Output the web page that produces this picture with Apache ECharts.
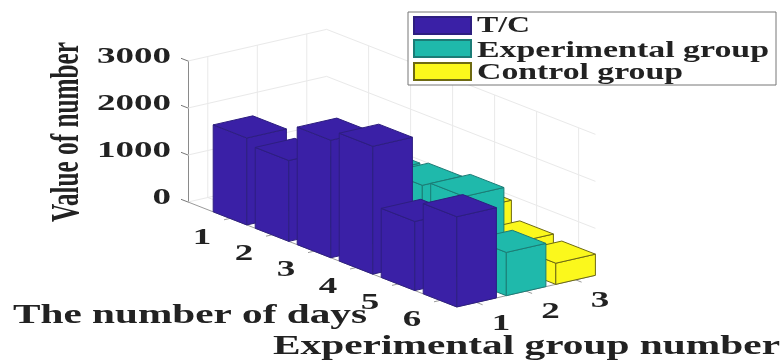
<!DOCTYPE html>
<html>
<head>
<meta charset="utf-8">
<style>html,body{margin:0;padding:0;background:#fff}#c{width:783px;height:360px}</style>
<script src="https://cdn.jsdelivr.net/npm/echarts@6/dist/echarts.min.js"></script>
</head>
<body>
<div id="c"></div>
<script>
const days = [1, 2, 3, 4, 5, 6];
const groups = [1, 2, 3];
const valueTicks = [0, 1000, 2000, 3000];
const seriesNames = ['T/C', 'Experimental group', 'Control group'];
const tcValues = [1850, 1720, 2500, 2720, 1470, 1920];
const experimentalValues = [950, 1050, 1580, 1650, 1760, 920];
const controlValues = [600, 700, 820, 900, 530, 450];

const faceColors = ['#3a20a6', '#1fb9ab', '#fbf81c'];
const edgeColors = ['#2d1e80', '#1b7c76', '#6e6a12'];
const SERIF = '"Liberation Serif", serif';
const INK = '#222';

// oblique view: how one unit of each ground axis shifts on screen
const G_MIN = 0.6, G_MAX = 3.4, D_MAX = 6.4, HALF = 0.4;
const DAY_DY = 16.4, GROUP_DX = 49.5, GROUP_DY = -11.3;

function project(api, d, g, v) {
  const p = api.coord([d, v]);
  return [p[0] + (g - G_MIN) * GROUP_DX, p[1] + d * DAY_DY + (g - G_MIN) * GROUP_DY];
}

function makeBarRenderer(groupIndex) {
  return function (params, api) {
    const day = api.value(0), val = api.value(1), g = groups[groupIndex];
    const d0 = day - HALF, d1 = day + HALF, g0 = g - HALF, g1 = g + HALF;
    const style = { fill: faceColors[groupIndex], stroke: edgeColors[groupIndex], lineWidth: 1 };
    const poly = pts => ({ type: 'polygon', shape: { points: pts }, style });
    return { type: 'group', children: [
      poly([project(api,d0,g0,0), project(api,d1,g0,0), project(api,d1,g0,val), project(api,d0,g0,val)]),
      poly([project(api,d1,g0,0), project(api,d1,g1,0), project(api,d1,g1,val), project(api,d1,g0,val)]),
      poly([project(api,d0,g0,val), project(api,d1,g0,val), project(api,d1,g1,val), project(api,d0,g1,val)])
    ]};
  };
}

const ctx = document.createElement('canvas').getContext('2d');
function label(text, x, y, size, targetWidth, align, extra) {
  ctx.font = 'bold ' + size + 'px "Liberation Serif"';
  const sx = targetWidth / ctx.measureText(text).width;
  return Object.assign({
    type: 'text', x, y, scaleX: sx,
    style: { text, x: 0, y: 0, fontFamily: SERIF, fontWeight: 'bold', fontSize: size,
             fill: INK, align: align || 'center', verticalAlign: 'middle' }
  }, extra || {});
}
const seg = (a, b, color) => ({ type: 'line', shape: { x1: a[0], y1: a[1], x2: b[0], y2: b[1] },
  style: { stroke: color, lineWidth: 1, fill: null } });

function renderWalls(params, api) {
  const c = [], G = '#e9e9e9', vMax = valueTicks[valueTicks.length - 1];
  valueTicks.forEach(v => {
    c.push(seg(project(api,0,G_MIN,v), project(api,0,G_MAX,v), G));
    c.push(seg(project(api,0,G_MAX,v), project(api,D_MAX,G_MAX,v), G));
  });
  groups.forEach(g => {
    c.push(seg(project(api,0,g,0), project(api,0,g,vMax), G));
    c.push(seg(project(api,0,g,0), project(api,D_MAX,g,0), G));
  });
  days.forEach(d => {
    c.push(seg(project(api,d,G_MAX,0), project(api,d,G_MAX,vMax), G));
    c.push(seg(project(api,d,G_MIN,0), project(api,d,G_MAX,0), G));
  });
  return { type: 'group', children: c };
}

function renderAxes(params, api) {
  const c = [], A = '#9a9a9a';
  c.push(seg(project(api,0,G_MIN,0), project(api,D_MAX,G_MIN,0), A));
  c.push(seg(project(api,D_MAX,G_MIN,0), project(api,D_MAX,G_MAX,0), A));
  valueTicks.forEach(v => {
    const p = project(api,0,G_MIN,v);
    c.push(seg(p, [p[0]-7, p[1]-2.7], '#777'));
    c.push(label(String(v), 171, p[1]-4.5, 24, String(v).length * 18.5, 'right'));
  });
  days.forEach(d => {
    const p = project(api,d,G_MIN,0);
    c.push(seg(p, [p[0]-6, p[1]+1.4], A));
    c.push(label(String(d), p[0]-28, p[1]+19, 24, 18.5));
  });
  groups.forEach(g => {
    const p = project(api,D_MAX,g,0);
    c.push(seg(p, [p[0]+6, p[1]+2.3], A));
    c.push(label(String(g), p[0]+24.5, p[1]+21, 24, 18.5));
  });
  c.push(label('Value of number', 67, 132, 41, 180, 'center', { rotation: Math.PI / 2 }));
  c.push(label('The number of days', 13, 316, 27, 354, 'left'));
  c.push(label('Experimental group number', 273, 347, 27, 507, 'left'));
  return { type: 'group', children: c };
}

const legendWidths = [53, 292, 206];
const legendCentres = [26, 50.5, 72.5];
function renderLegendText() {
  return { type: 'group', children: seriesNames.map((name, i) =>
    label(name, 477, legendCentres[i], 24, legendWidths[i], 'left')) };
}

const barData = [tcValues, experimentalValues, controlValues];
const barSeries = seriesNames.map((name, i) => ({
  name, type: 'custom', z: 5 - i, clip: false, silent: true,
  renderItem: makeBarRenderer(i),
  encode: { x: 0, y: 1 },
  itemStyle: { color: faceColors[i], borderColor: edgeColors[i], borderWidth: 1 },
  data: days.map((d, k) => [d, barData[i][k]])
}));

const chart = echarts.init(document.getElementById('c'), null, { renderer: 'canvas' });
chart.setOption({
  animation: false,
  backgroundColor: '#fff',
  tooltip: { show: false },
  grid: { left: 188, top: 61, width: 420, height: 141 },
  xAxis: { type: 'value', min: 0, max: 10, show: false },
  yAxis: {
    type: 'value', min: 0, max: 3000, interval: 1000,
    axisLine: { show: true, lineStyle: { color: '#8a8a8a', width: 1 } },
    axisTick: { show: false }, axisLabel: { show: false }, splitLine: { show: false }
  },
  legend: {
    data: seriesNames.map(name => ({ name, icon: 'rect' })),
    orient: 'vertical', left: 408, top: 12, z: 20,
    padding: [4, 304, 4, 5], itemGap: 4, itemWidth: 57, itemHeight: 17,
    backgroundColor: '#fff', borderColor: '#777', borderWidth: 1, borderRadius: 0,
    selectedMode: false,
    formatter: () => ''
  },
  series: [
    { type: 'custom', name: 'walls', z: 1, clip: false, silent: true, renderItem: renderWalls, encode: { x: 0, y: 1 }, data: [[0, 0]] },
    { type: 'custom', name: 'axes', z: 2, clip: false, silent: true, renderItem: renderAxes, encode: { x: 0, y: 1 }, data: [[0, 0]] },
    { type: 'custom', name: 'legendText', z: 30, clip: false, silent: true, renderItem: renderLegendText, encode: { x: 0, y: 1 }, data: [[0, 0]] }
  ].concat(barSeries)
});
</script>
</body>
</html>
